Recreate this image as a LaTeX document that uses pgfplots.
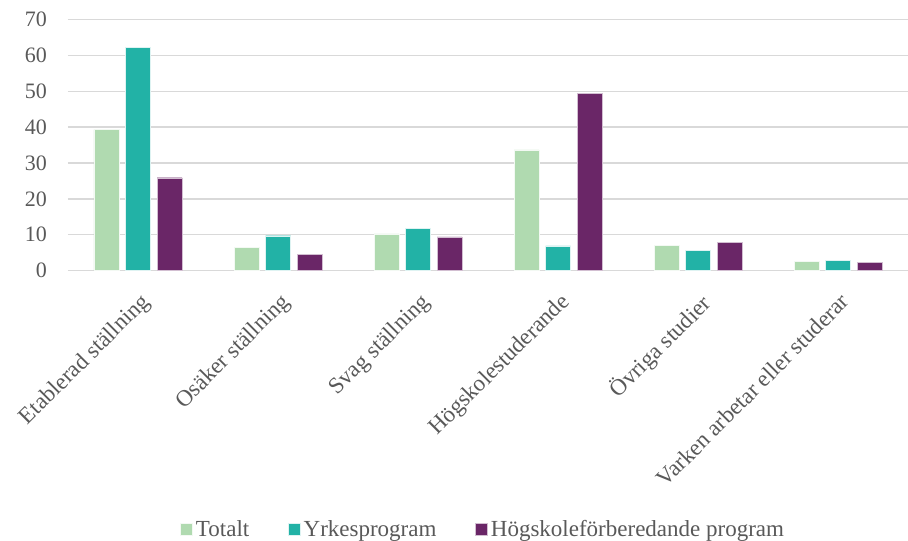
\documentclass[border=0pt]{standalone}
\usepackage{pgfplots}
\pgfplotsset{compat=1.18}
\usepackage{fontspec}
\setmainfont{Liberation Serif}

\definecolor{totgreen}{HTML}{B0DAB0}
\definecolor{yrkteal}{HTML}{22B2A6}
\definecolor{hogpurple}{HTML}{6A2667}
\definecolor{gridgray}{HTML}{D9D9D9}
\definecolor{txtgray}{HTML}{595959}

\begin{document}
\begin{tikzpicture}
    \begin{axis}[
        scale only axis,
        at={(68pt,270.5pt)}, anchor=south west,
        width=840pt, height=250.8pt,
        ymin=0, ymax=70,
        ytick={0,10,...,70},
        xmin=-0.5, xmax=5.5,
        xtick={0,...,5},
        xticklabels={Etablerad ställning, Osäker ställning, Svag ställning,
            Högskolestuderande, Övriga studier, Varken arbetar eller studerar},
        x tick label style={xshift=1pt, yshift=-21pt, rotate=45, anchor=north east,
            inner sep=0pt, font=\fontsize{23}{26}\selectfont},
        ybar, bar width=25pt, ybar=6.5pt,
        axis line style={draw=none},
        ymajorgrids, grid style={gridgray, line width=1.5pt},
        major tick length=0pt,
        tick label style={text=txtgray},
        /pgf/number format/assume math mode=true,
        yticklabel style={inner sep=0pt, xshift=-21pt, font=\fontsize{22}{24}\selectfont},
        clip=false,
        legend columns=3,
        legend style={draw=none, at={(0.495,-1.033)}, anchor=center,
            font=\fontsize{23}{26}\selectfont, text=txtgray,
            nodes={inner xsep=3.5pt, inner ysep=0pt},
            /tikz/every even column/.append style={column sep=35pt}},
        legend image code/.code={\fill[#1] (0pt,-6pt) rectangle (12pt,6pt);},
    ]
    % Totalt
    \addplot[fill=totgreen, draw=white!85!totgreen] coordinates {
        (0,39.3) (1,6.4) (2,10.2) (3,33.7) (4,7.0) (5,2.5)
    };
    \addlegendentry{Totalt}
    % Yrkesprogram
    \addplot[fill=yrkteal, draw=white!85!yrkteal] coordinates {
        (0,62.3) (1,9.7) (2,11.8) (3,6.9) (4,5.7) (5,2.8)
    };
    \addlegendentry{Yrkesprogram}
    % Högskoleförberedande program
    \addplot[fill=hogpurple, draw=white!70!hogpurple] coordinates {
        (0,25.9) (1,4.5) (2,9.4) (3,49.4) (4,7.9) (5,2.3)
    };
    \addlegendentry{Högskoleförberedande program}
    \end{axis}
    \pgfresetboundingbox
    \path[use as bounding box] (0pt,0pt) rectangle (908pt,541pt);
\end{tikzpicture}
\end{document}
